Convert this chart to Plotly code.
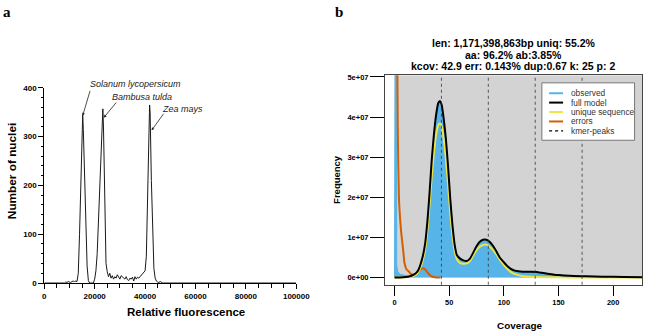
import plotly.graph_objects as go

# ---------------- Panel a data (flow cytometry histogram) ----------------
fluor = [0, 8000, 8500, 9000, 9500, 10000, 10500, 11000, 11500, 12000, 12500,
         13000, 13500, 14000, 14500, 15000, 15250, 15500, 16000, 16500, 17000, 17500, 18000,
         18500, 19000, 19500, 20000, 20500, 21000, 21500, 22000, 22500, 23000, 23250, 23500,
         24000, 24500, 25000, 25500, 26000, 26500, 27000, 27500, 28000, 28500, 29000, 29500,
         30000, 30500, 31000, 31500, 32000, 32500, 33000, 33500, 34000, 34500, 35000, 35500,
         36000, 36500, 37000, 37500, 38000, 38500, 39000, 39500, 40000, 40500, 41000, 41500,
         41800, 42000, 42500, 43000, 43500, 44000, 44500, 45000, 45500, 46000, 46500, 47000,
         47500, 100000]
nuclei = [0, 0, 2, 1, 3, 2, 1, 3, 4, 3, 4,
          3, 20, 100, 210, 320, 345, 315, 200, 100, 35, 5, 0,
          0, 0, 0, 8, 25, 60, 130, 215, 290, 345, 357, 320,
          160, 40, 23, 13, 20, 10, 15, 8, 13, 10, 17, 11,
          8, 15, 12, 10, 8, 13, 7, 5, 10, 8, 12, 4,
          13, 8, 12, 10, 13, 15, 17, 20, 25, 55, 160, 300,
          365, 350, 210, 90, 30, 10, 4, 2, 1, 3, 1, 0,
          0, 0]
a_xticks = [0, 20000, 40000, 60000, 80000, 100000]
a_xticktext = ["0", "20000", "40000", "60000", "80000", "100000"]
a_yticks = [0, 100, 200, 300, 400]
species = ["Solanum lycopersicum", "Bambusa tulda", "Zea mays"]
species_tip = [(15250, 343), (23620, 339), (42590, 313)]
species_tail = [(18350, 397), (29040, 373), (47770, 350)]
species_text = [(36160, 407), (38720, 381), (54860, 357)]

# ---------------- Panel b data (GenomeScope profile, values in millions) ----------------
obs_cov = [0, 1, 2, 3, 5, 8, 10, 13, 16, 19, 21, 23, 25, 26.5, 28, 30,
           32, 34, 36, 38, 40, 41.5, 43, 45, 47, 49, 51, 53, 55, 57, 60, 63, 66, 69, 72, 75,
           78, 81, 84, 87, 90, 93, 96, 100, 103, 106, 110, 115, 120, 125, 130, 135, 140, 150,
           160, 175, 190, 210, 230]
obs_M = [0, 110, 3.0, 1.5, 0.8, 0.6, 0.5, 0.5, 0.6, 0.9, 1.4, 2.5, 4.0, 5.5, 8.0, 13.3,
         20.8, 29.0, 35.3, 40.2, 43.2, 43.7, 42.9, 39.3, 34.3, 27.3, 19.4, 12.9, 8.1, 5.4, 4.9, 4.2, 4.0, 4.6, 6.1, 7.7,
         8.8, 9.3, 9.3, 8.8, 7.8, 6.5, 5.0, 3.7, 2.8, 2.1, 1.6, 1.45, 1.4, 1.4, 1.35, 1.15, 0.95, 0.6,
         0.4, 0.3, 0.2, 0.12, 0.08]

model_cov = [0, 5, 10, 14, 18, 20, 22, 24, 26, 28, 30, 32, 34, 36, 38, 40, 41.5, 43, 45, 47, 49,
             51, 53, 55, 57, 60, 63, 66, 69, 72, 75, 78, 81, 84, 87, 90, 93, 96, 100, 103, 106,
             110, 115, 120, 125, 130, 135, 140, 150, 160, 175, 190, 210, 230]
model_M = [0, 0, 0.1, 0.3, 0.8, 1.2, 2.0, 3.5, 5.5, 8.5, 13.8, 21.0, 29.2, 35.6, 40.5, 43.5, 44.0, 43.2, 39.5, 34.5, 27.5,
           19.5, 13.0, 8.2, 5.6, 4.7, 4.25, 4.1, 4.7, 6.2, 7.8, 8.9, 9.4, 9.4, 8.9, 7.9, 6.6, 5.1, 3.8, 2.9, 2.2,
           1.7, 1.5, 1.4, 1.4, 1.35, 1.15, 0.95, 0.6, 0.4, 0.3, 0.2, 0.12, 0.08]

uniq_cov = [0, 10, 16, 20, 22, 24, 26, 28, 30, 32, 34, 36, 38, 40, 41.7, 43, 45, 47, 49, 51, 53,
            55, 57, 60, 63, 66, 69, 72, 75, 78, 81, 83, 86, 89, 92, 95, 98, 101, 104, 108, 112,
            116, 120, 130, 140, 160, 230]
uniq_M = [0, 0.05, 0.3, 0.8, 1.5, 2.7, 4.5, 7.0, 11.5, 18.0, 25.0, 31.0, 35.5, 38.0, 38.4, 37.8, 34.5, 29.5, 23.0, 16.0, 10.5,
          6.6, 4.6, 3.6, 3.45, 3.5, 4.1, 5.5, 6.8, 7.7, 8.1, 8.2, 7.9, 7.2, 6.2, 5.0, 3.8, 2.8, 1.9, 1.1, 0.7,
          0.4, 0.25, 0.1, 0.05, 0.02, 0]

err_cov = [1, 2, 3, 4, 5, 6, 7, 8, 9, 10, 11, 13, 15, 17, 19, 21, 23, 25, 26.5, 28, 30, 32, 34, 36, 38, 42]
err_M = [300, 80, 36, 20, 15, 11.5, 9.0, 6.5, 3.8, 2.7, 2.0, 1.5, 0.9, 0.7, 0.8, 1.2, 1.8, 2.2, 2.3, 2.0, 1.3, 0.7, 0.3, 0.1, 0.0, 0.0]

kmer_peaks = [42.9, 85.8, 128.7, 171.6]
b_xticks = [0, 50, 100, 150, 200]
b_yticks_M = [0, 10, 20, 30, 40, 50]
b_yticktext = ["0e+00", "1e+07", "2e+07", "3e+07", "4e+07", "5e+07"]
title_lines = ["len: 1,171,398,863bp uniq: 55.2%",
               "aa: 96.2% ab:3.85%",
               "kcov: 42.9 err: 0.143% dup:0.67 k: 25 p: 2"]
legend_labels = ["observed", "full model", "unique sequence", "errors", "kmer-peaks"]
legend_colors = ["#56B4E9", "black", "#F0E442", "#D55E00", "black"]

W, H = 660, 336
def px(x): return x / W
def py(y): return 1 - y / H

SANS = "Liberation Sans, Arial, sans-serif"
M = 1e6

# panel a geometry
ax_dom = [px(43.3), px(301.6)]
ay_dom = [py(286.7), py(86.2)]
ax_rng = [0, 100000]
ay_rng = [0, 400]
def a_paper_x(v): return ax_dom[0] + (v - ax_rng[0]) / (ax_rng[1] - ax_rng[0]) * (ax_dom[1] - ax_dom[0])
def a_paper_y(v): return ay_dom[0] + (v - ay_rng[0]) / (ay_rng[1] - ay_rng[0]) * (ay_dom[1] - ay_dom[0])

fig = go.Figure()

# Panel a
fig.add_trace(go.Scatter(x=fluor, y=nuclei, mode="lines", line=dict(color="#1a1a1a", width=1),
                         xaxis="x", yaxis="y", showlegend=False, hoverinfo="skip"))

# Panel b
fig.add_trace(go.Scatter(x=obs_cov, y=[v * M for v in obs_M], mode="lines", fill="tozeroy",
                         fillcolor="#56B4E9", line=dict(color="#56B4E9", width=1),
                         xaxis="x2", yaxis="y2", showlegend=False))
fig.add_trace(go.Scatter(x=err_cov, y=[v * M for v in err_M], mode="lines", line_shape="spline",
                         line=dict(color="#D55E00", width=2, smoothing=0.6), xaxis="x2", yaxis="y2", showlegend=False))
fig.add_trace(go.Scatter(x=uniq_cov, y=[v * M for v in uniq_M], mode="lines", line_shape="spline",
                         line=dict(color="#F0E442", width=2, smoothing=0.6), xaxis="x2", yaxis="y2", showlegend=False))
fig.add_trace(go.Scatter(x=model_cov, y=[v * M for v in model_M], mode="lines", line_shape="spline",
                         line=dict(color="black", width=2, smoothing=0.6), xaxis="x2", yaxis="y2", showlegend=False))

bx_range = [-8.75, 226.5]
by_range = [-1.82e6, 5.04e7]

shapes = []
shapes.append(dict(type="rect", xref="x2", yref="y2", x0=0, x1=bx_range[1], y0=0, y1=by_range[1],
                   fillcolor="#D3D3D3", line=dict(width=0), layer="below"))
for k in kmer_peaks:
    shapes.append(dict(type="line", xref="x2", yref="y2 domain", x0=k, x1=k, y0=0, y1=1,
                       line=dict(color="#333333", width=0.8, dash="3px,3px"), layer="above"))

# legend box (manual)
lx0, lx1, ly0, ly1 = 553.3, 648.3, 81, 140
shapes.append(dict(type="rect", xref="paper", yref="paper", x0=px(lx0), x1=px(lx1), y0=py(ly1), y1=py(ly0),
                   fillcolor="white", line=dict(color="#777777", width=1), layer="above"))
entry_y = [91.7, 101.3, 111, 120.7, 130.3]
annotations = []
for lab, col, yy in zip(legend_labels, legend_colors, entry_y):
    dash = "3px,3px" if lab == "kmer-peaks" else "solid"
    wdt = 1.2 if lab == "kmer-peaks" else 2
    shapes.append(dict(type="line", xref="paper", yref="paper", x0=px(560.7), x1=px(575), y0=py(yy), y1=py(yy),
                       line=dict(color=col, width=wdt, dash=dash), layer="above"))
    annotations.append(dict(text=lab, xref="paper", yref="paper", x=px(581.5), y=py(yy), xanchor="left",
                            yanchor="middle", showarrow=False, font=dict(family=SANS, size=8.3, color="#333333")))

for line, yy in zip(title_lines, [40, 52.3, 64]):
    annotations.append(dict(text=line, xref="paper", yref="paper", x=px(524), y=py(yy), xanchor="center",
                            yanchor="middle", showarrow=False,
                            font=dict(family=SANS, size=10.5, color="black", weight="bold")))

annotations.append(dict(text="Frequency", xref="paper", yref="paper", x=px(342), y=py(180), textangle=-90,
                        showarrow=False, xanchor="center", yanchor="middle",
                        font=dict(family=SANS, size=9.5, color="black", weight="bold")))
annotations.append(dict(text="Coverage", xref="paper", yref="paper", x=px(530.5), y=py(330),
                        showarrow=False, xanchor="center", yanchor="middle",
                        font=dict(family=SANS, size=9.9, color="black", weight="bold")))
annotations.append(dict(text="Number of nuclei", xref="paper", yref="paper", x=px(11), y=py(172), textangle=-90,
                        showarrow=False, xanchor="center", yanchor="middle",
                        font=dict(family=SANS, size=11.8, color="black", weight="bold")))
annotations.append(dict(text="Relative fluorescence", xref="paper", yref="paper", x=px(189), y=py(316),
                        showarrow=False, xanchor="center", yanchor="middle",
                        font=dict(family=SANS, size=11.5, color="black", weight="bold")))

annotations.append(dict(text="a", xref="paper", yref="paper", x=px(5), y=py(8), showarrow=False,
                        xanchor="center", yanchor="middle",
                        font=dict(family="Liberation Serif, DejaVu Serif, serif", size=15, color="black", weight="bold")))
annotations.append(dict(text="b", xref="paper", yref="paper", x=px(345), y=py(8), showarrow=False,
                        xanchor="center", yanchor="middle",
                        font=dict(family="Liberation Serif, DejaVu Serif, serif", size=15, color="black", weight="bold")))

for name, tip, tail, tpos in zip(species, species_tip, species_tail, species_text):
    annotations.append(dict(x=tip[0], y=tip[1], ax=tail[0], ay=tail[1], xref="x", yref="y", axref="x", ayref="y",
                            text="", showarrow=True, arrowhead=2, arrowsize=0.7, arrowwidth=0.8,
                            arrowcolor="#222222"))
    annotations.append(dict(x=a_paper_x(tpos[0]), y=a_paper_y(tpos[1]), xref="paper", yref="paper",
                            text="<i>%s</i>" % name, showarrow=False,
                            xanchor="center", yanchor="middle",
                            font=dict(family=SANS, size=9, color="#222222")))

fig.update_layout(
    width=W, height=H,
    margin=dict(l=0, r=0, t=0, b=0),
    paper_bgcolor="white", plot_bgcolor="white",
    showlegend=False,
    shapes=shapes, annotations=annotations,
    xaxis=dict(domain=ax_dom, range=ax_rng, anchor="y",
               showline=True, linecolor="black", linewidth=1, showgrid=False, zeroline=False,
               ticks="outside", ticklen=5, tickcolor="black", tickwidth=1,
               tickvals=a_xticks, ticktext=a_xticktext,
               minor=dict(dtick=5000, ticks="outside", ticklen=4, tickcolor="black", showgrid=False),
               tickfont=dict(family=SANS, size=8, color="black", weight="bold")),
    yaxis=dict(domain=ay_dom, range=ay_rng, anchor="x",
               showline=True, linecolor="black", linewidth=1, showgrid=False, zeroline=False,
               ticks="outside", ticklen=5, tickcolor="black", tickwidth=1,
               tickvals=a_yticks,
               minor=dict(dtick=20, ticks="outside", ticklen=2.5, tickcolor="black", showgrid=False),
               tickfont=dict(family=SANS, size=8, color="black", weight="bold")),
    xaxis2=dict(domain=[px(392.5), px(656)], range=bx_range, anchor="y2",
                showline=True, mirror=True, linecolor="#444444", linewidth=1, showgrid=False, zeroline=False,
                ticks="outside", ticklen=10, tickcolor="black", tickwidth=1.2,
                tickvals=b_xticks,
                tickfont=dict(family=SANS, size=7.4, color="black", weight="bold")),
    yaxis2=dict(domain=[py(288.5), py(73.3)], range=by_range, anchor="x2",
                showline=True, mirror=True, linecolor="#444444", linewidth=1, showgrid=False, zeroline=False,
                ticks="outside", ticklen=14, tickcolor="black", tickwidth=1.2,
                tickvals=[v * M for v in b_yticks_M], ticktext=b_yticktext,
                tickfont=dict(family=SANS, size=7.5, color="black", weight="bold")),
)

fig.write_html("out.html")
